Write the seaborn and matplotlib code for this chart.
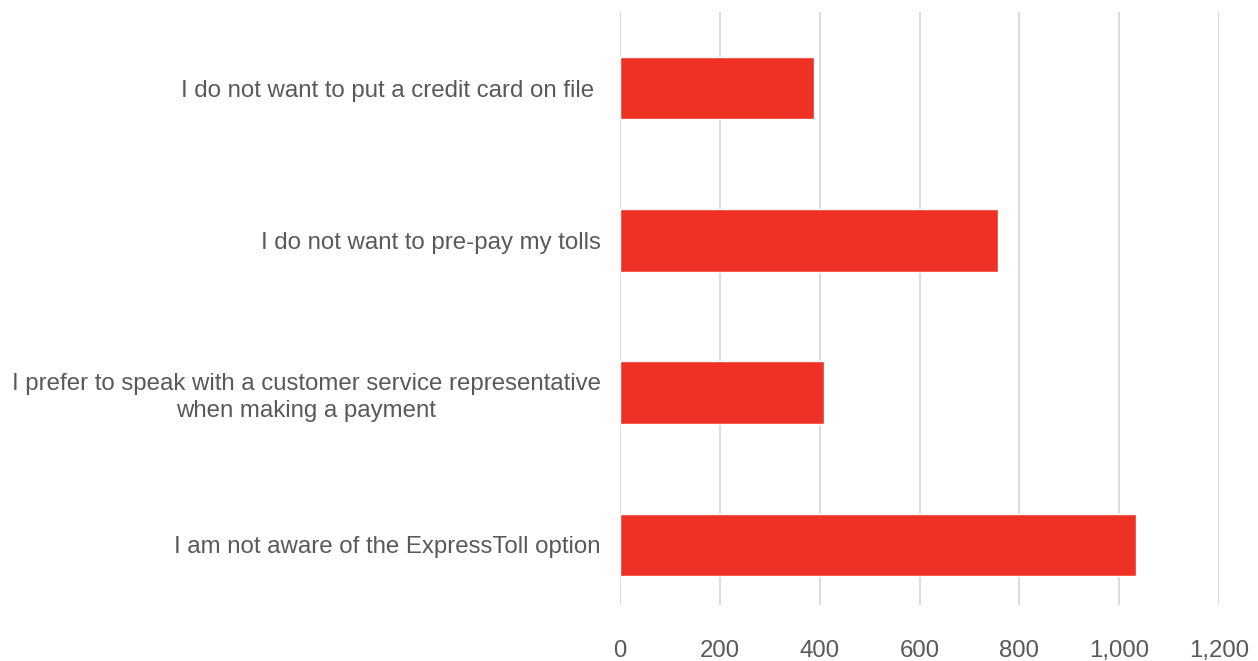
import matplotlib.pyplot as plt
import matplotlib.ticker as mticker
import seaborn as sns
import pandas as pd

# data
reasons = [
    "I do not want to put a credit card on file ",
    "I do not want to pre-pay my tolls",
    "I prefer to speak with a customer service representative\nwhen making a payment",
    "I am not aware of the ExpressToll option",
]
counts = [389, 758, 408, 1034]
x_ticks = [0, 200, 400, 600, 800, 1000, 1200]

df = pd.DataFrame({"reason": reasons, "count": counts})

sns.set_theme(style="white")
plt.rcParams['font.family'] = ['Liberation Sans', 'DejaVu Sans']

fig = plt.figure(figsize=(12.58, 6.61), dpi=100)
ax = fig.add_axes([620 / 1258, 1 - 605 / 661, (1219 - 620) / 1258, 593 / 661])

sns.barplot(data=df, x="count", y="reason", color="#EE3124", saturation=1,
            width=0.41, ax=ax)

ax.set_xlim(0, 1200)
ax.set_ylim(3.395, -0.5)
ax.set_xticks(x_ticks)
ax.xaxis.set_major_formatter(mticker.FuncFormatter(lambda v, p: f"{int(v):,}"))
ax.grid(axis="x", color="#D9D9D9", linewidth=1.3)
ax.set_axisbelow(True)
for s in ax.spines.values():
    s.set_visible(False)
ax.set_xlabel("")
ax.set_ylabel("")
ax.tick_params(axis="both", length=0, labelsize=17.3, labelcolor="#595959")
ax.tick_params(axis="y", pad=14)
ax.tick_params(axis="x", pad=25)
for lbl in ax.get_yticklabels():
    lbl.set_multialignment("center")
    lbl.set_linespacing(1.3)

fig.savefig("out.png", dpi=100)
